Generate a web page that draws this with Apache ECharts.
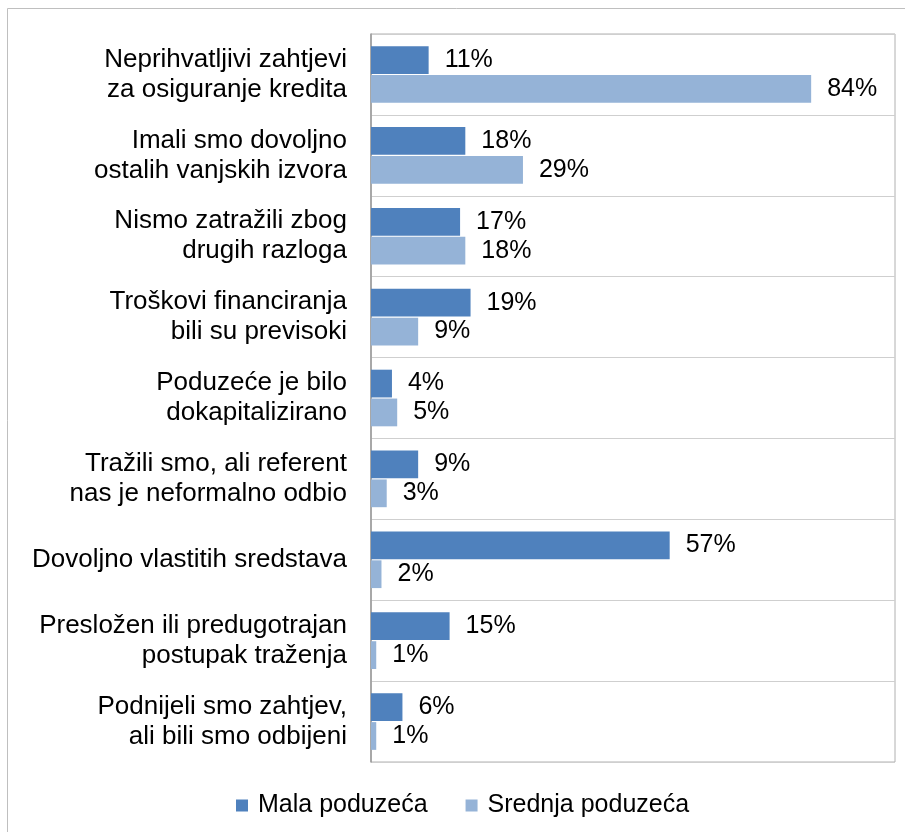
<!DOCTYPE html>
<html>
<head>
<meta charset="utf-8">
<script src="https://cdn.jsdelivr.net/npm/echarts@6/dist/echarts.min.js"></script>
<style>
  html, body { margin: 0; padding: 0; background: #fff; }
  #chart { width: 905px; height: 832px; }
</style>
</head>
<body>
<div id="chart"></div>
<script>
const categories = [
  'Neprihvatljivi zahtjevi\nza osiguranje kredita',
  'Imali smo dovoljno\nostalih vanjskih izvora',
  'Nismo zatražili zbog\ndrugih razloga',
  'Troškovi financiranja\nbili su previsoki',
  'Poduzeće je bilo\ndokapitalizirano',
  'Tražili smo, ali referent\nnas je neformalno odbio',
  'Dovoljno vlastitih sredstava',
  'Presložen ili predugotrajan\npostupak traženja',
  'Podnijeli smo zahtjev,\nali bili smo odbijeni'
]
const malaValues = [11, 18, 17, 19, 4, 9, 57, 15, 6]
const srednjaValues = [84, 29, 18, 9, 5, 3, 2, 1, 1]

const chart = echarts.init(document.getElementById('chart'))

const font = 'Liberation Sans, Arial, sans-serif'

const labelStyle = {
  show: true,
  position: 'right',
  distance: 16,
  formatter: '{c}%',
  color: '#000',
  fontSize: 25,
  fontFamily: font
}

const option = {
  backgroundColor: '#fff',
  animation: false,
  graphic: [
    {
      type: 'rect',
      shape: { x: 7.5, y: 8.5, width: 1000, height: 1000 },
      style: { fill: 'none', stroke: '#bfbfbf', lineWidth: 1 },
      silent: true
    }
  ],
  grid: {
    left: 371, top: 34, right: 10, bottom: 70,
    show: true,
    borderColor: '#b0b0b0',
    borderWidth: 1
  },
  legend: {
    left: 231,
    top: 788,
    itemWidth: 12,
    itemHeight: 12,
    itemGap: 38,
    icon: 'rect',
    textStyle: { color: '#000', fontSize: 25, fontFamily: font, padding: [0, 0, 0, 5] },
    data: ['Mala poduzeća', 'Srednja poduzeća']
  },
  xAxis: {
    type: 'value',
    min: 0,
    max: 100,
    show: false,
    splitLine: { show: false }
  },
  yAxis: {
    type: 'category',
    inverse: true,
    data: categories,
    axisTick: { show: false },
    axisLine: { show: true, lineStyle: { color: '#999', width: 1.5 } },
    splitLine: { show: true, interval: 0, lineStyle: { color: '#cfcfcf', width: 1 } },
    axisLabel: {
      margin: 24,
      color: '#000',
      fontSize: 26,
      fontFamily: font,
      lineHeight: 30,
      align: 'right'
    }
  },
  series: [
    {
      name: 'Mala poduzeća',
      type: 'bar',
      data: malaValues,
      barCategoryGap: '30%',
      barGap: '4%',
      itemStyle: { color: '#4f81bd' },
      label: labelStyle
    },
    {
      name: 'Srednja poduzeća',
      type: 'bar',
      data: srednjaValues,
      barCategoryGap: '30%',
      barGap: '4%',
      itemStyle: { color: '#95b3d7' },
      label: labelStyle
    }
  ]
}

chart.setOption(option)
</script>
</body>
</html>
